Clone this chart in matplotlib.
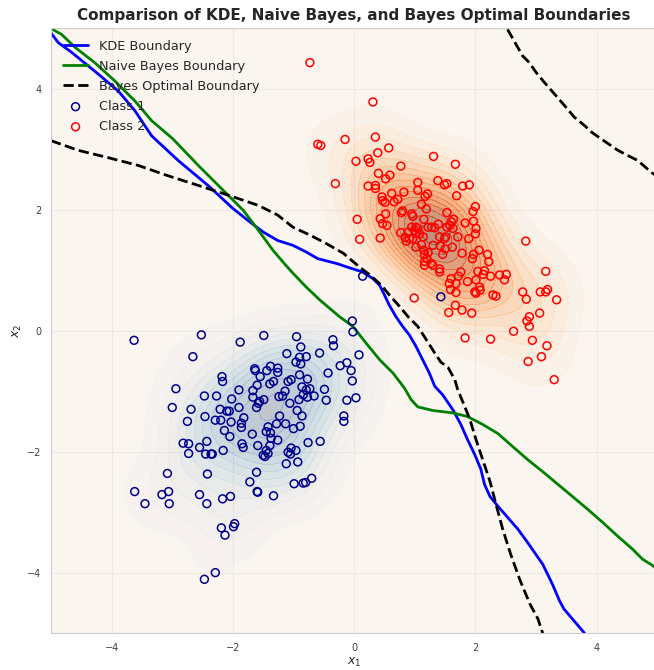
import numpy as np
import matplotlib
matplotlib.use("Agg")
import matplotlib.pyplot as plt
import seaborn as sns

# ---------- data ---------- #
class1_x = [-3.63, -2.52, -1.88, -2.66, -2.18, -2.17, -2.94, -1.90, -2.47, -2.27,
            -2.02, -3.00, -2.69, -2.21, -2.10, -2.06, -1.90, -2.46, -2.75, -2.29,
            -2.20, -2.03, -1.82, -1.86, -1.86, -2.14, -2.05, -1.68,
            -0.03, -0.02, -1.49, -0.95, -0.35, -0.34, -0.88, -1.11, -0.57, 0.08,
            -0.90, -0.79, -0.96, -0.88, -0.23, -0.12, -1.64, -1.63, -1.44, -1.38,
            -1.26, -1.26, -0.05, -0.43, -1.55, -0.90, -0.77, -0.03, -1.33, -1.39,
            -1.09, -1.04, -1.60, -0.86, -1.67, -0.79, -0.73, -0.49, -1.14, -0.84,
            -0.66, -0.77, -1.24, -1.18, -1.67, -1.49, -1.56, -1.58, -0.91, -0.46,
            -0.12, 0.03, -1.06, -1.61, -0.94, -0.86, -1.23, -0.17, -0.17, -1.28,
            -1.13, -0.89, -1.00, -1.42, -1.45, -1.38,
            -2.82, -2.73, -2.43, -2.55, -1.37, -1.26, -1.85, -1.83, -1.59, -1.39,
            -1.45, -1.42, -1.50, -1.47, -0.76, -0.56, -1.04, -1.09, -1.05, -0.96,
            -1.12, -0.93, -2.73, -2.45, -2.36, -2.34, -2.16, -3.08, -2.42, -1.61,
            -1.72, -0.99, -0.84, -0.80, -0.70, -3.62, -3.17, -3.06, -2.55, -1.60,
            -1.59, -1.33, -3.45, -3.05, -2.43, -2.17, -2.04, -2.19, -2.13, -1.99,
            -1.97, -2.47, -2.29, 0.14, 1.43]
class1_y = [-0.16, -0.07, -0.19, -0.43, -0.76, -0.84, -0.96, -0.98, -1.08, -1.08,
            -1.13, -1.27, -1.30, -1.30, -1.33, -1.33, -1.27, -1.42, -1.50, -1.48,
            -1.48, -1.51, -1.44, -1.53, -1.60, -1.65, -1.75, -1.71,
            0.16, -0.02, -0.08, -0.10, -0.15, -0.25, -0.27, -0.38, -0.37, -0.40,
            -0.44, -0.43, -0.52, -0.55, -0.58, -0.53, -0.63, -0.66, -0.66, -0.59,
            -0.62, -0.69, -0.66, -0.70, -0.76, -0.73, -0.80, -0.83, -0.84, -0.88,
            -0.84, -0.81, -0.90, -0.93, -0.99, -0.98, -0.96, -0.97, -1.00, -1.06,
            -1.08, -1.10, -1.09, -1.08, -1.10, -1.14, -1.17, -1.20, -1.14, -1.15,
            -1.15, -1.11, -1.20, -1.27, -1.32, -1.41, -1.41, -1.41, -1.50, -1.54,
            -1.54, -1.58, -1.62, -1.59, -1.67, -1.69,
            -1.86, -1.87, -1.83, -1.93, -1.78, -1.81, -1.87, -1.93, -1.90, -1.90,
            -1.98, -2.03, -2.06, -2.08, -1.85, -1.83, -1.94, -2.01, -2.04, -1.98,
            -2.20, -2.17, -2.03, -2.04, -2.04, -2.04, -1.98, -2.36, -2.37, -2.34,
            -2.50, -2.53, -2.52, -2.51, -2.44, -2.66, -2.71, -2.66, -2.71, -2.66,
            -2.67, -2.73, -2.86, -2.86, -2.86, -2.78, -2.74, -3.26, -3.38, -3.24,
            -3.19, -4.11, -4.00, 0.90, 0.56]

class2_x = [-0.73, 0.31, 0.35, -0.15, -0.60, -0.55, 0.57, 0.39, 1.31, 0.03,
            0.23, 0.26, 0.77, 0.40, 0.59, 0.52, -0.31, 1.05, 1.38, 0.23,
            0.35, 0.35, 1.05, 0.62, 0.82, 1.21, 1.17, 0.46, 0.47, 0.51,
            0.72, 0.66, 1.11, 1.19, 0.80, 0.78, 0.52, 0.95, 0.97, 0.05,
            0.43, 1.15,
            1.67, 1.49, 1.53, 1.79, 1.90, 1.69, 2.00, 1.96, 1.53, 1.64,
            1.60, 1.83, 1.97,
            0.47, 0.54, 1.58, 1.53, 1.63, 0.95, 1.02, 1.00, 1.05, 1.22,
            1.28, 1.33, 1.39, 0.77, 0.89, 1.01, 1.08, 1.14, 1.51, 1.49,
            0.43, 0.91, 0.97, 1.71, 0.86, 1.30, 1.42, 1.02, 1.11, 1.62,
            1.89, 1.15, 1.22, 1.16, 1.46, 1.20, 1.16, 1.27, 1.30, 1.78,
            1.41, 1.76, 1.16, 0.09, 0.84, 0.99,
            2.01, 2.00, 1.41, 1.50, 2.83, 2.06, 1.97, 1.95, 2.20, 2.22,
            1.41, 1.72, 1.60, 1.57, 1.68, 1.59, 2.04, 2.15, 2.13, 2.25,
            2.40, 2.48, 2.51, 1.87, 2.01, 2.07, 2.08, 1.99, 2.01, 1.68,
            2.29, 2.34, 3.16, 2.78, 2.84, 3.07, 3.16, 3.19, 3.34, 1.67,
            1.78, 1.56, 1.94, 3.06, 2.89, 2.85, 2.89, 2.63, 1.83, 2.25,
            2.94, 3.18, 3.09, 2.87, 3.30]
class2_y = [4.43, 3.78, 3.20, 3.16, 3.08, 3.06, 3.02, 2.94, 2.88, 2.80,
            2.84, 2.78, 2.72, 2.60, 2.57, 2.51, 2.43, 2.45, 2.48, 2.39,
            2.40, 2.35, 2.32, 2.27, 2.29, 2.26, 2.22, 2.21, 2.15, 2.12,
            2.17, 2.13, 2.09, 2.01, 1.98, 1.95, 1.93, 1.93, 1.89, 1.84,
            1.85, 1.84,
            2.75, 2.41, 2.43, 2.39, 2.41, 2.23, 2.05, 1.97, 1.95, 1.84,
            1.80, 1.78, 1.81,
            1.77, 1.74, 1.74, 1.71, 1.69, 1.71, 1.71, 1.66, 1.69, 1.71,
            1.71, 1.70, 1.76, 1.62, 1.63, 1.61, 1.60, 1.55, 1.55, 1.52,
            1.53, 1.52, 1.52, 1.55, 1.48, 1.41, 1.40, 1.38, 1.42, 1.38,
            1.52, 1.33, 1.29, 1.26, 1.26, 1.19, 1.14, 1.11, 1.08, 1.28,
            1.02, 0.97, 1.08, 1.51, 1.54, 0.54,
            1.69, 1.60, 1.55, 1.35, 1.48, 1.33, 1.26, 1.19, 1.26, 1.14,
            0.97, 0.90, 0.86, 0.78, 0.78, 0.68, 0.98, 0.99, 0.93, 0.90,
            0.92, 0.84, 0.93, 0.81, 0.84, 0.72, 0.67, 0.64, 0.62, 0.63,
            0.59, 0.57, 0.98, 0.64, 0.52, 0.64, 0.64, 0.68, 0.51, 0.42,
            0.34, 0.30, 0.29, 0.29, 0.23, 0.16, 0.07, -0.01, -0.12, -0.14,
            -0.16, -0.25, -0.43, -0.51, -0.81]

# decision boundaries (traced)
kde_bx = [-5.0, -4.88, -4.66, -4.22, -3.89, -3.62, -3.34, -2.90, -2.41, -2.00,
          -1.75, -1.50, -1.26, -1.01, -0.79, -0.60, -0.29, -0.05, 0.14, 0.31,
          0.42, 0.50, 0.58, 0.69, 0.80, 0.91, 1.02, 1.13, 1.24, 1.33,
          1.46, 1.63, 1.76, 1.87, 1.99, 2.09, 2.15, 2.24, 2.37, 2.70,
          2.86, 3.11, 3.27, 3.39, 3.46, 3.80]
kde_by = [4.92, 4.76, 4.60, 4.24, 3.96, 3.64, 3.22, 2.81, 2.40, 2.02,
          1.82, 1.63, 1.49, 1.41, 1.30, 1.19, 1.11, 1.03, 0.97, 0.86,
          0.75, 0.59, 0.42, 0.23, 0.07, -0.07, -0.26, -0.48, -0.70, -0.92,
          -1.06, -1.31, -1.55, -1.80, -2.05, -2.29, -2.54, -2.74, -2.90, -3.28,
          -3.50, -3.86, -4.19, -4.47, -4.60, -5.0]

nb_bx = [-4.96, -4.83, -4.60, -4.28, -3.95, -3.62, -3.34, -2.99, -2.57, -2.16,
         -1.83, -1.58, -1.34, -1.17, -1.01, -0.79, -0.57, -0.24, -0.02, 0.20,
         0.42, 0.64, 0.83, 0.94, 1.05, 1.30, 1.63, 1.87, 2.12, 2.37,
         2.62, 2.86, 3.11, 3.36, 3.60, 3.85, 4.10, 4.35, 4.59, 4.76,
         4.89, 5.0]
nb_by = [4.97, 4.90, 4.68, 4.43, 4.13, 3.80, 3.47, 3.17, 2.73, 2.32,
         1.99, 1.66, 1.33, 1.13, 0.95, 0.72, 0.51, 0.23, 0.07, -0.21,
         -0.48, -0.70, -0.95, -1.14, -1.26, -1.32, -1.36, -1.42, -1.55, -1.70,
         -1.92, -2.13, -2.33, -2.54, -2.74, -2.95, -3.17, -3.40, -3.61, -3.78,
         -3.86, -3.94]

bo_x1 = [-5.0, -4.55, -4.06, -3.56, -3.07, -2.57, -2.08, -1.58, -1.26, -1.01,
         -0.73, -0.46, -0.18, 0.09, 0.26, 0.45, 0.58, 0.75, 0.89, 1.05,
         1.19, 1.33, 1.43, 1.55, 1.66, 1.71, 1.81, 1.91, 2.01, 2.12,
         2.24, 2.34, 2.45, 2.58, 2.73, 2.90, 3.03, 3.11]
bo_y1 = [3.14, 2.98, 2.86, 2.73, 2.56, 2.40, 2.24, 2.07, 1.91, 1.71,
         1.58, 1.44, 1.28, 1.05, 0.92, 0.75, 0.59, 0.40, 0.23, 0.07,
         -0.15, -0.37, -0.52, -0.61, -0.81, -0.98, -1.22, -1.47, -1.80, -2.13,
         -2.49, -2.87, -3.28, -3.69, -4.11, -4.52, -4.76, -5.0]
bo_x2 = [2.53, 2.78, 2.89, 3.00, 3.14, 3.28, 3.47, 3.63, 3.80, 3.93,
         4.35, 4.68, 4.91, 5.0]
bo_y2 = [4.98, 4.54, 4.43, 4.27, 4.10, 3.94, 3.72, 3.53, 3.39, 3.27,
         2.98, 2.81, 2.61, 2.55]

bandwidth = 0.45


def kde_grid(px, py, xx, yy, h):
    # plain isotropic gaussian kde
    px = np.asarray(px)[None, None, :]
    py = np.asarray(py)[None, None, :]
    d2 = (xx[:, :, None] - px) ** 2 + (yy[:, :, None] - py) ** 2
    return np.exp(-0.5 * d2 / h ** 2).sum(axis=2) / (px.size * 2 * np.pi * h ** 2)


if __name__ == "__main__":
    sns.set_style("whitegrid")

    gx = np.linspace(-5, 5, 200)
    xx, yy = np.meshgrid(gx, gx)
    z1 = kde_grid(class1_x, class1_y, xx, yy, bandwidth)
    z2 = kde_grid(class2_x, class2_y, xx, yy, bandwidth)

    fig = plt.figure(figsize=(6.54, 6.70), dpi=100)
    ax = fig.add_axes([0.078, 0.055, 0.927, 0.903])

    ax.contourf(xx, yy, z1, levels=15, cmap="Blues", alpha=0.5)
    ax.contourf(xx, yy, z2, levels=15, cmap="Oranges", alpha=0.5)

    ax.plot(kde_bx, kde_by, color="blue", lw=2, label="KDE Boundary")
    ax.plot(nb_bx, nb_by, color="green", lw=2, label="Naive Bayes Boundary")
    ax.plot(bo_x1, bo_y1, color="black", lw=2, ls="--", label="Bayes Optimal Boundary")
    ax.plot(bo_x2, bo_y2, color="black", lw=2, ls="--")

    ax.scatter(class1_x, class1_y, s=32, facecolors="none", edgecolors="darkblue",
               linewidths=1.1, label="Class 1", zorder=3)
    ax.scatter(class2_x, class2_y, s=32, facecolors="none", edgecolors="red",
               linewidths=1.1, label="Class 2", zorder=3)

    ax.set_xlim(-5, 5)
    ax.set_ylim(-5, 5)
    ax.set_xticks([-4, -2, 0, 2, 4])
    ax.set_yticks([-4, -2, 0, 2, 4])
    ax.tick_params(labelsize=7, colors=".25")
    ax.set_xlabel("$x_1$", fontsize=9, labelpad=2)
    ax.set_ylabel("$x_2$", fontsize=9, labelpad=2)
    ax.set_title("Comparison of KDE, Naive Bayes, and Bayes Optimal Boundaries",
                 fontsize=11, fontweight="bold", color=".15")
    ax.legend(loc="upper left", fontsize=9.3, frameon=False, labelspacing=0.55)

    fig.savefig("out.png", dpi=100)
